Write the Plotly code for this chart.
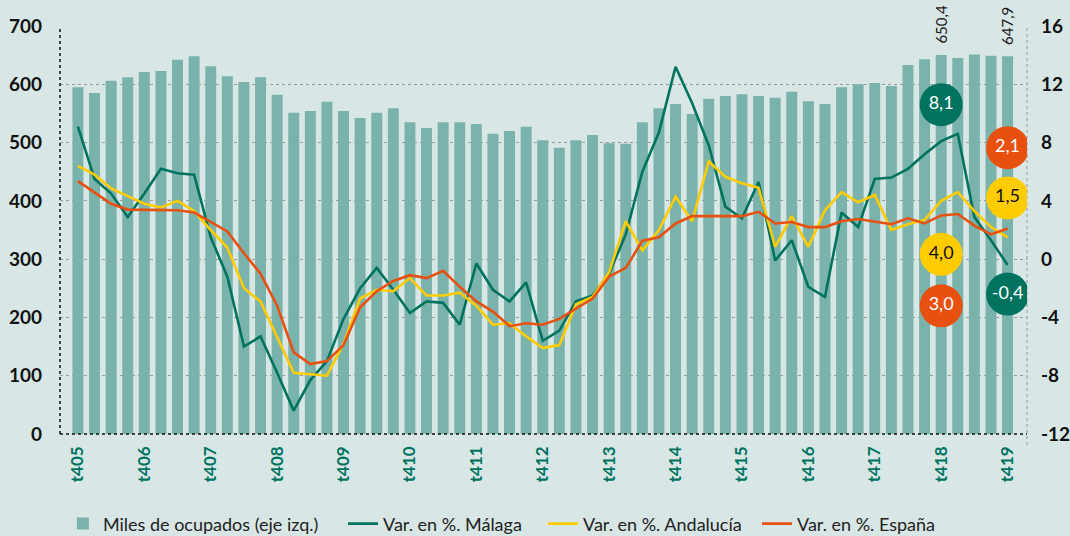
import plotly.graph_objects as go

# ---------------- data ----------------
years = [f"t4{y:02d}" for y in range(5, 20)]
ocupados = [595, 585, 606, 612, 621, 623, 642, 648, 631, 614, 604, 612, 582, 551, 554, 570,
            554, 542, 551, 559, 535, 525, 535, 535, 532, 515, 520, 527, 504, 491, 504, 513,
            499, 498, 535, 559, 566, 549, 575, 580, 583, 580, 577, 587, 571, 566, 595, 600,
            602, 597, 633, 643, 650.4, 645, 651, 649, 647.9]
malaga = [9.1, 5.5, 4.5, 2.9, 4.5, 6.2, 5.9, 5.8, 1.5, -1.2, -6.0, -5.3, -7.8, -10.4, -8.3, -7.0,
          -4.1, -2.0, -0.6, -2.1, -3.7, -2.9, -3.0, -4.5, -0.3, -2.1, -2.9, -1.6, -5.6, -4.9, -2.9, -2.5,
          -1.0, 1.7, 6.0, 8.7, 13.2, 10.7, 7.8, 3.6, 2.8, 5.3, -0.1, 1.3, -1.9, -2.6, 3.2, 2.2,
          5.5, 5.6, 6.2, 7.2, 8.1, 8.6, 2.9, 1.3, -0.4]
andalucia = [6.4, 5.8, 4.85, 4.3, 3.8, 3.55, 4.0, 3.3, 2.0, 0.8, -2.0, -2.9, -5.3, -7.8, -7.9, -8.0,
             -5.8, -2.7, -2.1, -2.2, -1.3, -2.5, -2.5, -2.3, -3.2, -4.5, -4.4, -5.3, -6.1, -5.9, -3.1, -2.6,
             -0.9, 2.6, 0.6, 2.0, 4.3, 2.6, 6.7, 5.65, 5.2, 4.9, 0.85, 2.95, 0.85, 3.36, 4.6, 3.9,
             4.4, 2.0, 2.4, 2.7, 4.0, 4.6, 3.3, 2.2, 1.5]
espana = [5.35, 4.6, 3.8, 3.4, 3.4, 3.4, 3.36, 3.2, 2.55, 1.9, 0.4, -1.0, -3.2, -6.4, -7.2, -7.0,
          -5.9, -3.3, -2.2, -1.5, -1.1, -1.3, -0.8, -1.9, -2.9, -3.6, -4.6, -4.4, -4.5, -4.1, -3.4, -2.7,
          -1.2, -0.6, 1.26, 1.5, 2.45, 2.95, 2.95, 2.95, 2.95, 3.25, 2.45, 2.55, 2.2, 2.2, 2.6, 2.75,
          2.6, 2.4, 2.8, 2.45, 3.0, 3.1, 2.3, 1.7, 2.1]

left_ticks = [0, 100, 200, 300, 400, 500, 600, 700]
right_ticks = [-12, -8, -4, 0, 4, 8, 12, 16]
badge_text = ["8,1", "2,1", "1,5", "4,0", "3,0", "-0,4"]
bar_labels = {52: "650,4", 56: "647,9"}
series_names = ["Miles de ocupados (eje izq.)", "Var. en %. Málaga",
                "Var. en %. Andalucía", "Var. en %. España"]

# ---------------- styles ----------------
BG = "#D8E7E5"
BAR = "#7AB2AC"
GREEN = "#00735F"
YELLOW = "#FFCC00"
ORANGE = "#E8500F"
FONT = "Lato"
legend_x = [0.003, 0.2927, 0.4995, 0.7208]
legend_ids = ["legend", "legend2", "legend3", "legend4"]

x = list(range(len(ocupados)))
tickvals = list(range(0, len(ocupados), 4))

fig = go.Figure()
fig.add_trace(go.Bar(x=x, y=ocupados, marker_color=BAR, marker_line_width=0,
                     name=series_names[0], legend=legend_ids[0]))
for k, (vals, col) in enumerate([(malaga, GREEN), (andalucia, YELLOW), (espana, ORANGE)], start=1):
    fig.add_trace(go.Scatter(x=x, y=vals, yaxis="y2", mode="lines", name=series_names[k],
                             legend=legend_ids[k], line=dict(color=col, width=2.6)))

# badges (positions on right axis scale)
badge_x = [52, 56, 56, 52, 52, 56]
badge_y = [10.6, 7.65, 4.2, 0.33, -3.2, -2.4]
badge_col = [GREEN, ORANGE, YELLOW, YELLOW, ORANGE, GREEN]
badge_tc = ["white", "white", "#111", "#111", "white", "white"]
fig.add_trace(go.Scatter(x=badge_x, y=badge_y, yaxis="y2", mode="markers+text",
                         text=badge_text, textposition="middle center",
                         textfont=dict(family=FONT, size=18, color=badge_tc),
                         marker=dict(size=43, color=badge_col, line_width=0),
                         showlegend=False, hoverinfo="skip"))

for i, t in bar_labels.items():
    fig.add_annotation(x=i, y=ocupados[i], text=t, textangle=-90, showarrow=False,
                       yanchor="bottom", xanchor="center", yshift=9,
                       font=dict(family=FONT, size=15, color="#1a1a1a"))

legend_common = dict(orientation="h", xanchor="left", y=-0.175, yanchor="top",
                     font=dict(family=FONT, size=18, color="#222"), bgcolor="rgba(0,0,0,0)")
legends = {lid: dict(x=lx, **legend_common) for lid, lx in zip(legend_ids, legend_x)}

fig.update_layout(
    width=1070, height=536,
    margin=dict(l=60, r=43, t=26, b=102, autoexpand=False),
    paper_bgcolor=BG, plot_bgcolor=BG,
    bargap=0.34,
    font=dict(family=FONT, color="#1a1a1a"),
    showlegend=True,
    xaxis=dict(range=[-1.08, 57.17], tickmode="array", tickvals=tickvals, ticktext=years,
               tickangle=-90, showgrid=False, zeroline=False, showline=False, ticks="",
               ticklabelstandoff=8, automargin=False,
               tickfont=dict(family=FONT, size=17, color=GREEN, weight="bold")),
    yaxis=dict(range=[0, 700], tickmode="array", tickvals=left_ticks,
               ticktext=[str(v) for v in left_ticks],
               showgrid=True, gridcolor="#9a9a9a", griddash="dot",
               gridwidth=1, zeroline=False, showline=False, ticks="", ticklabelstandoff=17,
               automargin=False,
               tickfont=dict(family=FONT, size=19, color="#111", weight="bold")),
    yaxis2=dict(range=[-12, 16], tickmode="array", tickvals=right_ticks,
                ticktext=[str(v) for v in right_ticks],
                overlaying="y", side="right", showgrid=False,
                zeroline=False, showline=False, ticks="", ticklabelstandoff=13,
                automargin=False,
                tickfont=dict(family=FONT, size=19, color="#111", weight="bold")),
    **legends,
)

# dotted axis lines
fig.add_shape(type="line", xref="paper", yref="paper", x0=0, x1=0, y0=0, y1=1,
              line=dict(color="#111", width=1.5, dash="dot"), layer="above")
fig.add_shape(type="line", xref="paper", yref="paper", x0=0, x1=1, y0=0, y1=0,
              line=dict(color="#111", width=1.5, dash="dot"), layer="above")
fig.add_shape(type="line", xref="paper", yref="paper", x0=1, x1=1, y0=-0.027, y1=1,
              line=dict(color="#9a9a9a", width=1, dash="dot"), layer="below")

fig.write_html("out.html", config={"displayModeBar": False},
               post_script="document.body.style.margin='0';document.body.style.overflow='hidden';")
